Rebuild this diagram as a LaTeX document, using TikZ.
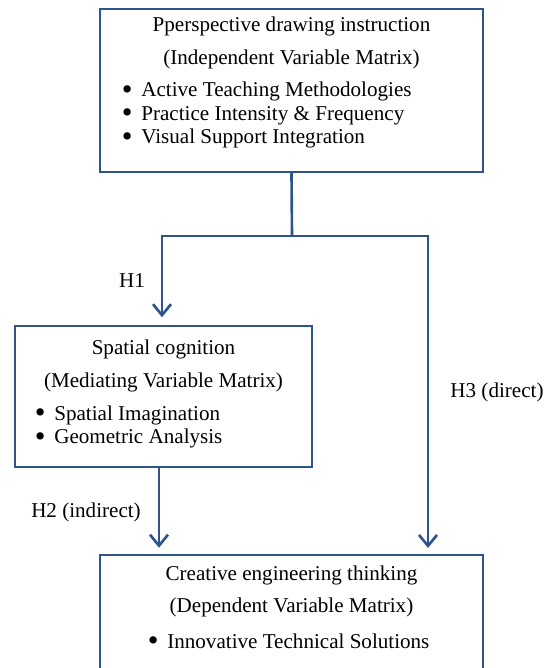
\documentclass[tikz,border=0pt]{standalone}
\usepackage{fontspec}
\usepackage{graphicx}
\setmainfont{Liberation Serif}
\usetikzlibrary{positioning,arrows.meta}
\definecolor{frameblue}{RGB}{46,84,140}
\newcommand{\itm}[1]{\smash{\raisebox{-0.12em}{\scalebox{1.45}{\textbullet}}}\hspace{5pt}#1}
\tikzset{
    boxframe/.style={draw=frameblue, line width=1.4pt, rectangle},
    link/.style={draw=frameblue, line width=1.5pt},
    tip/.style={-{Straight Barb[length=0.22cm, width=0.36cm]}},
    list/.style={anchor=west, align=left, inner sep=0pt, font=\fontsize{12pt}{13.4pt}\selectfont}
}
\begin{document}
\begin{tikzpicture}[font=\fontsize{12pt}{14pt}\selectfont]
            \useasboundingbox (0,0) rectangle (11,13.36);
            \begin{scope}[every node/.style={boxframe}]

                \node (ind) at (5.83,11.55) [minimum width=7.66cm, minimum height=3.26cm] {};
                \node (mid) at (3.27,5.43) [minimum width=5.94cm, minimum height=2.82cm] {};
                \node (dep) at (5.83,0.76) [minimum width=7.66cm, minimum height=3cm] {};
            \end{scope}

            % box texts
            \node (indT) at (5.83,12.84) {Pperspective drawing instruction};
            \node (indS) at (5.83,12.18) {(Independent Variable Matrix)};
            \node[list] (indL) at (2.43,11.06) {\itm{Active Teaching Methodologies}\\
                \itm{Practice Intensity \& Frequency}\\ \itm{Visual Support Integration}};

            \node (midT) at (3.27,6.38) {Spatial cognition};
            \node (midS) at (3.27,5.72) {(Mediating Variable Matrix)};
            \node[list] (midL) at (0.69,4.82) {\itm{Spatial Imagination}\\ \itm{Geometric Analysis}};

            \node (depT) at (5.83,1.86) {Creative engineering thinking};
            \node (depS) at (5.83,1.22) {(Dependent Variable Matrix)};
            \node[list] (depL) at (2.95,0.54) {\itm{Innovative Technical Solutions}};

            % connectors
            \coordinate (split) at (5.84,8.64);
            \coordinate (h3end) at (8.56,2.26);
            \path[link] (ind.south) -- (split);
            \path[link, tip, shorten >=0.15cm] (split) -| ([xshift=-0.03cm]mid.north);
            \path[link, tip, shorten >=0.14cm] (split) -| (h3end);
            \path[link, tip, shorten >=0.12cm] ([xshift=-0.09cm]mid.south) -- ([xshift=-0.09cm]mid.south |- dep.north);

            \node (h1) at (2.64,7.74) {H1};
            \node (h2) at (1.72,3.12) {H2 (indirect)};
            \node (h3) at (9.94,5.52) {H3 (direct)};
        \end{tikzpicture}
\end{document}
